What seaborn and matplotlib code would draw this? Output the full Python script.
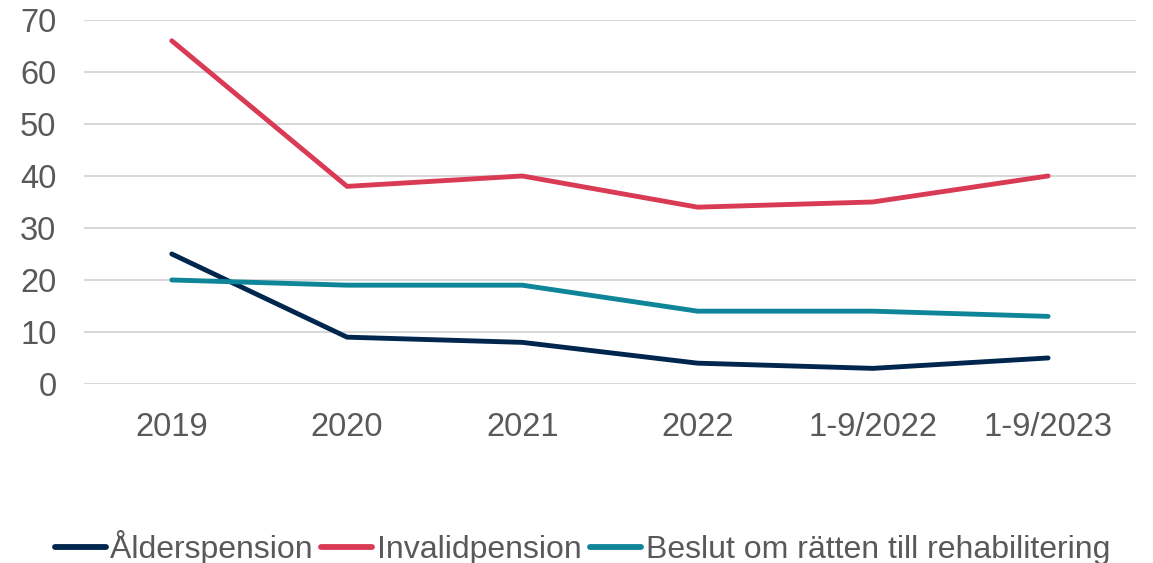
import matplotlib
matplotlib.use("Agg")
import matplotlib.pyplot as plt
import seaborn as sns
import pandas as pd
from matplotlib.lines import Line2D

categories = ["2019", "2020", "2021", "2022", "1-9/2022", "1-9/2023"]
alderspension = [25, 9, 8, 4, 3, 5]
invalidpension = [66, 38, 40, 34, 35, 40]
rehabilitering = [20, 19, 19, 14, 14, 13]
series_names = ["Ålderspension", "Invalidpension", "Beslut om rätten till rehabilitering"]
colors = ["#00264D", "#D93B55", "#0E8598"]

rows = []
for name, vals in zip(series_names, [alderspension, invalidpension, rehabilitering]):
    for c, v in zip(categories, vals):
        rows.append({"Kategori": c, "Värde": v, "Serie": name})
df = pd.DataFrame(rows)

sns.set_theme(style="white")
plt.rcParams["font.family"] = ["Liberation Sans", "DejaVu Sans"]

fig = plt.figure(figsize=(11.53, 5.63), dpi=100)
ax = fig.add_axes([0.073, 0.318, 0.912, 0.6465])

sns.lineplot(data=df, x="Kategori", y="Värde", hue="Serie", palette=colors,
             hue_order=series_names, sort=False, linewidth=3.5, ax=ax,
             solid_capstyle="round", solid_joinstyle="round", legend=False)

ax.set_xlim(-0.5, len(categories) - 0.5)
ax.set_ylim(0, 70)
ax.set_yticks(range(0, 71, 10))
ax.yaxis.grid(True, color="#d9d9d9", linewidth=1.5)
ax.set_axisbelow(True)
for s in ax.spines.values():
    s.set_visible(False)
ax.set_xlabel("")
ax.set_ylabel("")
ax.tick_params(axis="both", length=0, labelsize=23.5, labelcolor="#595959")
ax.tick_params(axis="x", pad=20)
ax.tick_params(axis="y", pad=20)

handles = [Line2D([0], [0], color=c, lw=4.2, solid_capstyle="round") for c in colors]
fig.legend(handles, series_names, loc="center", bbox_to_anchor=(0.505, 0.028),
           ncol=3, frameon=False, fontsize=23, labelcolor="#595959",
           handlelength=1.6, handletextpad=0.15, columnspacing=0.25,
           borderaxespad=0, borderpad=0)

fig.savefig("out.png", dpi=100)
